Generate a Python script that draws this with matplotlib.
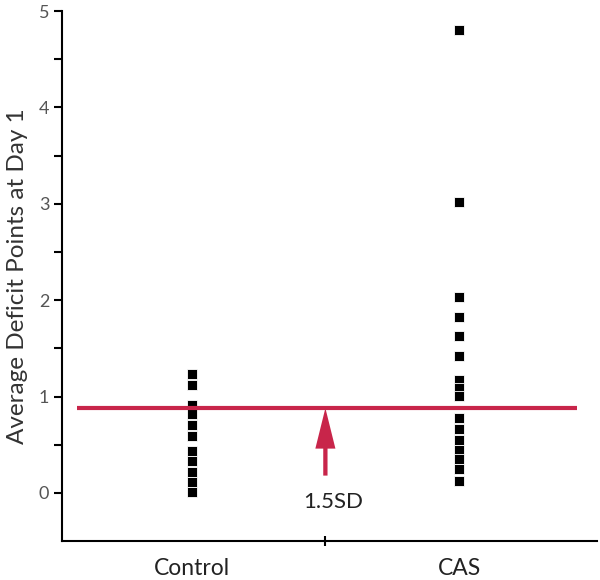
import matplotlib
matplotlib.use("Agg")
import matplotlib.pyplot as plt

# values
groups = ["Control", "CAS"]
group_pos = [1, 3]
control_vals = [1.23, 1.12, 0.91, 0.82, 0.70, 0.59, 0.44, 0.33, 0.22, 0.11, 0.01]
cas_vals = [4.80, 3.02, 2.03, 1.83, 1.63, 1.42, 1.17, 1.09, 1.01, 0.78, 0.66,
            0.55, 0.45, 0.35, 0.25, 0.12]
threshold = 0.88
arrow_base = 0.18
threshold_label = "1.5SD"

red = "#C8254A"
plt.rcParams["font.family"] = ["Lato", "DejaVu Sans"]

fig = plt.figure(figsize=(6, 5.8), dpi=100)
ax = fig.add_axes([0.103, 0.067, 0.892, 0.914])

for pos, vals in zip(group_pos, [control_vals, cas_vals]):
    ax.plot([pos] * len(vals), vals, "s", color="black", markersize=6.8,
            markeredgecolor="white", markeredgewidth=0.6,
            linestyle="none", zorder=3)

ax.hlines(threshold, 0.14, 3.88, color=red, linewidth=3, zorder=4)
ax.arrow(2, arrow_base, 0, threshold - arrow_base, length_includes_head=True,
         width=0.032, head_width=0.15, head_length=0.42, color=red,
         linewidth=0, zorder=4)
ax.text(2.06, -0.09, threshold_label, ha="center", va="center",
        fontsize=16, color="#222222")

ax.set_xlim(0.03, 4.03)
ax.set_ylim(-0.5, 5)
ax.spines["top"].set_visible(False)
ax.spines["right"].set_visible(False)
for s in ["left", "bottom"]:
    ax.spines[s].set_linewidth(1.5)

ax.set_xticks(group_pos, groups)
ax.set_xticks([2], minor=True)
ax.tick_params(axis="x", which="major", length=0, pad=12, labelsize=16.5,
               labelcolor="#222222")
ax.tick_params(axis="x", which="minor", length=7, width=1.5, direction="inout")

ax.set_yticks([0, 1, 2, 3, 4, 5])
ax.set_yticks([0.5, 1.5, 2.5, 3.5, 4.5], minor=True)
ax.tick_params(axis="y", which="both", length=6, width=1.5, direction="out")
ax.tick_params(axis="y", which="major", labelsize=13, labelcolor="#555555", pad=3)

ax.set_ylabel("Average Deficit Points at Day 1", fontsize=17.5, color="#333333",
              labelpad=8)

fig.savefig("out.png", dpi=100)
